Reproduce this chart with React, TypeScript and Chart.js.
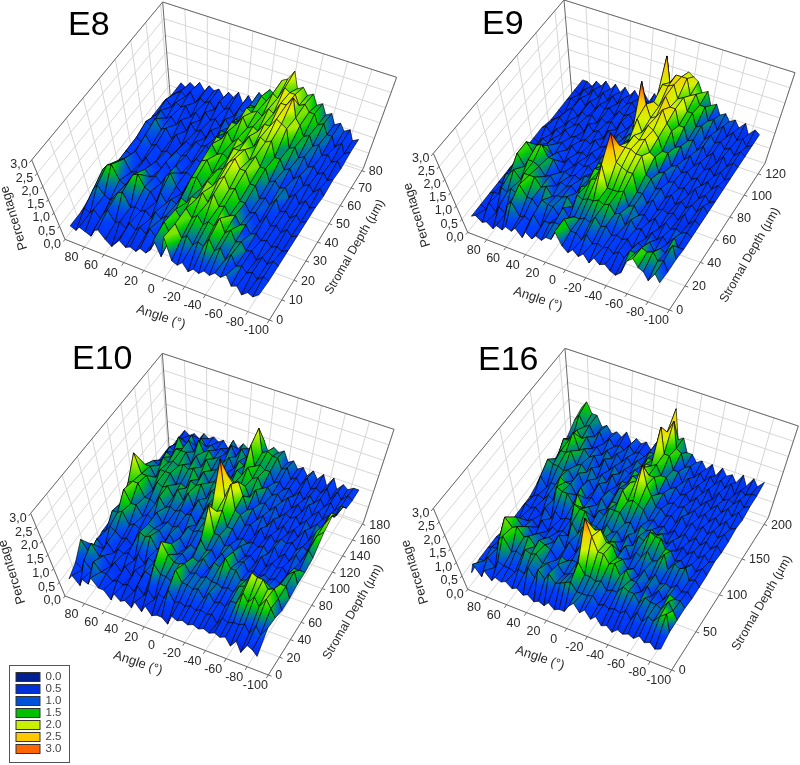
import { useEffect, useRef } from "react";
import { Chart, registerables } from "chart.js";
Chart.register(...registerables);

// values are in tenths of a percent; rows run from depth 0 to the deepest row, columns follow ANGLES
const PERCENT_PER_UNIT = 0.1;
const ANGLES = [87.3,82.45,77.6,72.75,67.9,63.05,58.2,53.35,48.5,43.65,38.8,33.95,29.1,24.25,19.4,14.55,9.7,4.85,0,-4.85,-9.7,-14.55,-19.4,-24.25,-29.1,-33.95,-38.8,-43.65,-48.5,-53.35,-58.2,-63.05,-67.9,-72.75,-77.6,-82.45,-87.3];
const ANGLE_TICKS = [80,60,40,20,0,-20,-40,-60,-80,-100];
const PERCENT_TICKS = [0,0.5,1,1.5,2,2.5,3];
const PERCENT_LABELS = ["0,0","0,5","1,0","1,5","2,0","2,5","3,0"];
const LEGEND_LABELS = ["0.0","0.5","1.0","1.5","2.0","2.5","3.0"];
const LEGEND_COLORS = ["#001f90","#0030d8","#0050d8","#00c000","#c8f000","#ffc800","#ff6600"];

const E8_DEPTHS = [0,7.4,14.8,22.2,29.6,37,44.4,51.8,59.2,66.6,74,81.4];
const E8_TICKS = [0,10,20,30,40,50,60,70,80];
const E8_VALUES = [
[7,6,8,7,6,9,10,7,5,7,9,7,8,7,9,8,10,15,9,18,9,8,10,7,9,8,10,9,11,10,12,8,9,6,8,7,9],
[7,9,8,10,7,10,12,8,9,7,10,8,10,8,11,8,11,16,11,17,12,14,11,13,12,16,12,14,10,13,9,10,8,9,7,9,8],
[8,11,13,10,9,11,13,14,9,10,9,10,8,11,9,11,10,15,12,17,14,16,13,15,14,18,13,15,11,12,9,10,7,9,7,9,8],
[8,13,15,16,11,10,12,15,16,12,11,8,12,9,11,10,13,12,15,15,18,15,19,15,16,13,14,11,12,9,10,8,9,7,8,7,8],
[8,10,12,13,9,10,9,12,10,11,9,12,14,10,8,11,15,16,13,16,15,18,20,16,17,13,13,10,11,8,11,8,9,7,9,7,8],
[7,10,9,11,8,10,7,10,8,11,8,11,9,10,9,12,16,17,13,15,16,19,21,18,18,14,14,10,11,9,12,8,9,7,9,7,8],
[7,10,9,12,9,10,8,9,8,10,9,10,8,10,9,13,17,14,15,14,18,18,19,16,18,15,15,11,12,10,11,8,10,7,9,7,8],
[7,11,10,13,10,11,8,10,7,9,8,10,9,10,8,14,14,17,14,16,15,18,15,19,18,19,14,14,11,12,9,11,8,9,7,9,7],
[8,9,11,9,10,8,10,7,10,8,9,7,10,8,11,11,15,15,18,15,16,15,18,18,21,20,19,13,14,11,12,9,10,8,9,7,8],
[8,10,8,10,9,10,7,9,7,10,8,9,7,10,8,11,11,16,15,16,15,18,17,21,21,24,18,16,13,14,11,12,9,10,8,9,7],
[7,8,9,8,10,7,9,8,9,7,10,8,9,7,10,9,12,12,16,15,18,17,21,20,20,17,18,16,16,13,14,11,11,8,10,7,8],
[7,6,8,7,9,7,9,8,9,7,9,8,10,7,10,8,12,11,14,13,18,19,22,17,18,16,17,14,15,12,13,10,11,9,10,7,8],
];

const E9_DEPTHS = [0,10,20,30,40,50,60,70,80,90,100,110,120,130];
const E9_TICKS = [0,20,40,60,80,100,120];
const E9_VALUES = [
[8,9,7,8,6,8,7,9,8,10,7,10,8,10,9,11,11,15,10,8,10,8,10,7,10,8,9,7,6,8,14,16,13,12,9,13,10],
[8,7,10,7,10,8,12,14,9,10,9,12,8,11,11,12,12,15,11,11,9,12,9,10,9,10,8,10,8,12,12,15,14,15,12,13,9],
[8,9,9,12,11,13,12,16,12,12,9,13,12,12,9,13,10,11,11,12,11,14,11,12,9,10,9,10,7,10,9,12,9,11,10,14,9],
[8,8,12,13,15,12,15,15,15,12,13,10,11,11,12,9,14,13,14,14,15,14,15,12,13,9,12,9,10,7,10,8,10,8,11,8,8],
[8,10,11,16,12,15,15,14,11,12,9,11,10,11,9,12,13,16,17,23,15,15,15,16,11,12,9,10,8,10,7,10,8,9,8,9,8],
[8,8,13,16,13,16,17,13,13,9,10,9,10,9,11,11,15,15,21,30,20,19,18,18,12,12,9,11,8,9,8,9,7,10,7,9,8],
[8,9,8,11,10,12,9,11,8,10,8,10,9,10,8,12,12,16,16,21,21,21,20,20,14,13,10,11,8,10,7,9,7,9,7,10,8],
[8,7,9,8,10,9,10,8,10,8,9,8,10,8,10,9,13,12,16,18,21,20,21,17,16,11,12,9,10,8,9,7,10,7,9,7,8],
[8,9,7,9,8,10,8,9,8,9,8,10,8,9,8,11,10,13,14,22,18,21,20,18,14,14,10,11,9,10,8,9,7,9,7,9,8],
[7,8,9,7,9,8,9,7,10,8,9,7,10,8,10,9,11,11,30,23,19,20,23,19,17,12,13,9,11,8,10,8,9,7,9,7,8],
[7,6,8,9,7,9,8,9,7,9,8,9,7,10,8,10,9,12,16,20,19,23,20,20,15,15,11,12,9,11,8,10,7,10,7,9,8],
[7,8,7,9,7,9,7,9,8,9,7,9,8,9,7,10,9,12,15,22,22,23,19,20,16,16,12,13,9,11,9,10,8,9,7,9,8],
[7,6,8,7,9,7,9,7,9,7,9,8,9,7,10,8,10,10,27,19,22,22,22,17,18,15,15,11,12,9,11,8,10,8,9,7,8],
[7,7,6,8,7,9,7,9,7,9,7,9,7,9,7,10,8,11,13,17,16,20,19,18,15,16,12,13,10,11,9,10,8,10,7,9,8],
];

const E10_DEPTHS = [0,13,26,39,52,65,78,91,104,117,130,143,156,169,182];
const E10_TICKS = [0,20,40,60,80,100,120,140,160,180];
const E10_VALUES = [
[8,10,7,10,9,12,9,9,6,9,7,8,6,9,6,9,6,7,7,5,9,8,9,8,9,8,9,8,9,8,9,6,9,5,9,8,6],
[10,8,12,9,13,10,10,8,9,8,9,7,10,7,10,7,10,9,13,9,10,9,10,9,10,9,10,7,10,9,10,10,11,8,12,9,13],
[14,10,14,10,11,8,10,7,10,7,10,8,11,10,15,12,12,11,16,12,12,11,12,9,12,9,10,9,12,12,17,14,17,14,18,15,12],
[8,11,8,11,8,10,9,10,8,11,8,11,10,14,19,15,13,13,14,11,12,11,12,11,11,10,11,10,13,14,20,19,19,16,17,14,10],
[9,10,12,11,9,10,8,11,14,13,14,10,11,11,14,11,12,9,12,11,13,10,13,12,16,13,13,10,11,10,13,10,12,11,14,14,10],
[9,13,13,14,10,11,10,9,13,12,12,9,12,9,12,9,11,10,14,11,12,9,12,9,14,11,12,9,10,9,10,9,10,9,13,15,11],
[8,12,17,13,13,10,11,10,13,10,11,10,11,9,12,11,12,12,22,13,13,10,11,9,12,9,10,8,11,8,10,9,10,8,11,11,11],
[8,15,16,16,12,12,11,14,11,12,11,12,11,12,9,12,12,16,16,17,12,12,9,10,9,10,9,10,8,11,8,10,8,11,9,14,12],
[8,21,15,15,11,14,13,14,11,14,11,14,10,13,10,13,13,29,17,22,14,13,10,11,8,11,8,10,8,10,9,10,8,10,9,15,17],
[8,14,14,11,14,14,14,11,12,11,14,13,14,10,13,12,16,20,18,19,15,11,12,9,11,8,11,8,10,8,10,8,11,8,12,15,19],
[8,12,11,14,13,14,13,14,13,14,11,14,11,12,11,13,12,14,13,14,11,14,10,11,9,11,8,10,9,10,8,10,8,10,9,15,15],
[8,9,12,11,14,14,14,11,14,11,14,11,12,11,12,11,14,13,16,13,14,11,12,10,11,9,11,8,10,8,11,8,10,8,10,10,14],
[8,10,9,14,11,14,11,15,12,13,11,12,11,13,10,13,12,19,13,14,13,13,10,11,9,10,8,10,8,10,8,10,8,10,8,10,10],
[7,8,10,9,12,9,12,10,11,10,11,10,13,10,13,11,14,21,14,15,14,14,11,12,9,10,8,11,8,9,8,10,7,10,8,10,9],
[7,9,8,9,8,10,9,10,9,10,8,11,9,11,10,11,10,14,11,13,12,13,10,11,9,10,8,10,8,10,7,10,7,9,8,9,9],
];

const E16_DEPTHS = [0,15,30,45,60,75,90,105,120,135,150,165,180,195,210];
const E16_TICKS = [0,50,100,150,200];
const E16_VALUES = [
[8,12,8,11,8,10,9,10,8,9,7,8,6,7,6,8,6,7,7,10,12,9,11,8,10,7,8,6,8,7,8,7,9,7,8,6,7],
[9,9,11,8,11,10,10,9,11,10,13,10,14,11,14,11,12,13,14,11,11,11,12,9,10,9,10,9,11,8,12,9,12,11,14,16,9],
[9,10,10,14,16,11,12,11,14,13,14,11,12,9,13,10,11,12,17,13,13,12,13,10,11,11,14,13,13,10,13,12,12,11,15,12,9],
[9,9,14,18,15,16,13,14,11,14,13,12,9,11,10,11,11,17,29,23,18,18,15,16,12,15,12,12,9,12,9,12,9,12,11,11,9],
[8,10,10,14,11,12,9,11,10,11,10,13,9,12,9,12,11,15,20,21,17,17,13,13,10,11,9,12,9,12,9,10,9,11,9,10,8],
[8,8,10,9,10,8,11,8,10,9,10,9,14,11,14,10,11,10,13,12,13,10,13,9,12,11,14,11,12,15,10,13,12,13,9,10,8],
[8,10,9,10,8,11,8,11,9,10,10,16,15,15,11,11,10,13,11,12,9,12,9,13,12,16,15,15,12,12,9,10,8,10,8,10,8],
[8,9,10,9,11,10,15,14,14,11,15,11,12,9,12,11,14,14,14,11,12,9,12,11,12,11,12,9,11,8,10,8,10,8,10,8,9],
[9,12,9,11,11,14,13,13,10,13,10,11,9,12,9,12,12,17,14,15,14,13,10,11,9,10,8,10,8,10,8,10,8,10,8,10,8],
[9,14,13,13,12,13,10,13,9,12,9,12,9,11,10,13,13,16,17,23,17,14,11,11,9,10,8,11,8,10,8,10,8,10,8,10,8],
[9,11,14,14,15,11,12,10,12,9,11,9,12,9,11,11,14,13,18,16,16,11,12,9,10,9,10,8,10,8,10,8,10,8,10,8,9],
[10,14,14,17,12,13,11,12,9,12,9,11,9,11,10,12,11,15,15,16,13,13,10,11,9,10,8,10,8,10,8,10,8,10,8,10,8],
[11,11,14,12,13,10,11,9,11,9,11,9,11,9,11,10,13,13,24,16,16,12,12,9,11,8,10,8,10,7,10,8,9,8,10,8,9],
[13,15,12,13,10,12,9,11,9,10,9,11,9,10,9,11,11,17,19,23,15,14,10,11,8,10,8,10,8,10,8,10,7,9,8,9,9],
[14,16,13,13,10,11,9,10,9,11,8,10,9,10,8,11,10,14,23,14,15,11,11,9,10,8,10,7,10,8,9,7,10,7,10,8,10],
];

// colour ramp of the surface, in percent
const RAMP_LEVELS = [0,0.5,1,1.15,1.5,2,2.5,3];
const RAMP_RGB = [[0,20,130],[0,40,230],[0,62,255],[0,95,205],[0,205,0],[210,245,0],[255,200,0],[235,50,0]];

type P = [number, number];
const Z = (x: number, y: number, ox = 0, oy = 0): P => [ox + x / 3, oy + y / 3];

const PANELS = [
  { name: "E8", values: E8_VALUES, depths: E8_DEPTHS, ticks: E8_TICKS, off: [0, 0],
    fL: [195,718], fF: [808,960], fR: [1090,505], fB: [512,306], tL: [95,480], tF: [852,764], tR: [1190,232], tB: [488,6],
    title: [68,35], angle: [161,317], depth: [355,247], pct: [14,218] },
  { name: "E9", values: E9_VALUES, depths: E9_DEPTHS, ticks: E9_TICKS, off: [400, 0],
    fL: [203,697], fF: [808,930], fR: [1095,490], fB: [517,297], tL: [100,460], tF: [852,734], tR: [1185,218], tB: [492,0],
    title: [482,34], angle: [538,299], depth: [750,255], pct: [417,215] },
  { name: "E10", values: E10_VALUES, depths: E10_DEPTHS, ticks: E10_TICKS, off: [0, 340],
    fL: [195,768], fF: [805,1005], fR: [1090,548], fB: [509,345], tL: [92,520], tF: [849,809], tR: [1182,268], tB: [487,40],
    title: [72,369], angle: [138,663], depth: [353,612], pct: [12,572] },
  { name: "E16", values: E16_VALUES, depths: E16_DEPTHS, ticks: E16_TICKS, off: [400, 340],
    fL: [203,748], fF: [815,990], fR: [1105,533], fB: [518,330], tL: [100,505], tF: [859,794], tR: [1195,258], tB: [495,25],
    title: [478,370], angle: [540,658], depth: [762,603], pct: [415,572] },
];

function homography(q: number[][]) {
  const [[x0,y0],[x1,y1],[x2,y2],[x3,y3]] = q;
  const dx1=x1-x2, dx2=x3-x2, sx=x0-x1+x2-x3, dy1=y1-y2, dy2=y3-y2, sy=y0-y1+y2-y3;
  const den=dx1*dy2-dx2*dy1;
  const g=(sx*dy2-dx2*sy)/den, h=(dx1*sy-sx*dy1)/den;
  const a=x1-x0+g*x1, b=x3-x0+h*x3, d=y1-y0+g*y1, e=y3-y0+h*y3;
  return (u: number, v: number): P => {
    const w=g*u+h*v+1;
    return [(a*u+b*v+x0)/w, (d*u+e*v+y0)/w];
  };
}

function rampColor(z: number) {
  const c = Math.max(0, Math.min(3, z));
  let i = 0;
  while (i < RAMP_LEVELS.length - 2 && c > RAMP_LEVELS[i + 1]) i++;
  const f = (c - RAMP_LEVELS[i]) / (RAMP_LEVELS[i + 1] - RAMP_LEVELS[i]);
  const m = RAMP_RGB[i].map((v, k) => Math.round(v + (RAMP_RGB[i + 1][k] - v) * f));
  return `rgb(${m[0]},${m[1]},${m[2]})`;
}

function projector(p: any) {
  const px = (n: number[]) => Z(n[0], n[1], p.off[0], p.off[1]);
  const floor = homography([px(p.fL), px(p.fF), px(p.fR), px(p.fB)]);
  const top = homography([px(p.tL), px(p.tF), px(p.tR), px(p.tB)]);
  const dmax = p.depths[p.depths.length - 1];
  return (angle: number, depth: number, pct: number): P => {
    const u = (100 - angle) / 200, v = depth / dmax, w = pct / 3;
    const a = floor(u, v), b = top(u, v);
    return [a[0] + (b[0] - a[0]) * w, a[1] + (b[1] - a[1]) * w];
  };
}

const GRID = "#d6d6d6";
const FRAME = "#6a6a6a";

function buildDatasets(ctx: CanvasRenderingContext2D) {
  const drawOrder: any[] = [];
  const line = (pts: P[], color: string, width: number) =>
    drawOrder.push({ data: pts.map(([x, y]) => ({ x, y })), showLine: true, fill: false, borderColor: color, borderWidth: width, pointRadius: 0, tension: 0 });
  for (const p of PANELS) {
    const at = projector(p);
    const dmax = p.depths[p.depths.length - 1];
    for (const z of PERCENT_TICKS) {
      line([at(100, 0, z), at(100, dmax, z), at(-100, dmax, z)], GRID, 1);
    }
    for (const a of ANGLE_TICKS) {
      line([at(a, 0, 0), at(a, dmax, 0), at(a, dmax, 3)], GRID, 1);
    }
    for (const d of p.ticks) {
      line([at(-100, d, 0), at(100, d, 0), at(100, d, 3)], GRID, 1);
    }
    line([at(100, 0, 3), at(100, dmax, 3), at(-100, dmax, 3), at(-100, dmax, 0)], FRAME, 1);
    line([at(100, dmax, 3), at(100, dmax, 0)], FRAME, 1);
    line([at(100, 0, 3), at(100, 0, 0), at(-100, 0, 0), at(-100, dmax, 0)], FRAME, 1);
    for (const a of ANGLE_TICKS) line([at(a, 0, 0), at(a, -dmax * 0.02, 0)], FRAME, 1);
    for (const d of p.ticks) line([at(-100, d, 0), at(-103, d, 0)], FRAME, 1);
    for (const z of PERCENT_TICKS) line([at(100, 0, z), at(100, -dmax * 0.015, z)], FRAME, 1);

    // surface, far corner first
    const rows = p.values.length, cols = ANGLES.length;
    for (let r = rows - 2; r >= 0; r--) {
      for (let c = 0; c < cols - 1; c++) {
        const corners: [number, number][] = [[r, c], [r, c + 1], [r + 1, c + 1], [r + 1, c]];
        const zs = corners.map(([i, j]) => p.values[i][j] * PERCENT_PER_UNIT);
        const pts = corners.map(([i, j], k) => at(ANGLES[j], p.depths[i], zs[k]));
        let lo = 0, hi = 0;
        zs.forEach((z, k) => { if (z < zs[lo]) lo = k; if (z > zs[hi]) hi = k; });
        let fillStyle: any = rampColor(zs[lo]);
        if (zs[hi] > zs[lo]) {
          const g = ctx.createLinearGradient(pts[lo][0], pts[lo][1], pts[hi][0], pts[hi][1]);
          g.addColorStop(0, rampColor(zs[lo]));
          for (const level of RAMP_LEVELS) {
            if (level > zs[lo] && level < zs[hi]) g.addColorStop((level - zs[lo]) / (zs[hi] - zs[lo]), rampColor(level));
          }
          g.addColorStop(1, rampColor(zs[hi]));
          fillStyle = g;
        }
        drawOrder.push({
          data: [...pts, pts[0]].map(([x, y]) => ({ x, y })), showLine: true, fill: "shape",
          backgroundColor: fillStyle, borderColor: "rgba(0,0,0,0.85)", borderWidth: 0.75, pointRadius: 0, tension: 0,
        });
      }
    }
  }
  // Chart.js paints the last dataset first
  return drawOrder.reverse();
}

const textPlugin = {
  id: "panelText",
  afterDatasetsDraw(chart: any) {
    const { ctx, scales: { x, y } } = chart;
    const sx = (v: number) => x.getPixelForValue(v), sy = (v: number) => y.getPixelForValue(v);
    const text = (s: string, px: number, py: number, font: string, align: CanvasTextAlign, color = "#2a2a2a", rot = 0) => {
      ctx.save();
      ctx.translate(sx(px), sy(py));
      ctx.rotate((rot * Math.PI) / 180);
      ctx.font = font; ctx.textAlign = align; ctx.textBaseline = "middle"; ctx.fillStyle = color;
      ctx.fillText(s, 0, 0);
      ctx.restore();
    };
    const tick = "12.5px 'Liberation Sans'";
    const axis = "13px 'Liberation Sans'";
    for (const p of PANELS) {
      const at = projector(p);
      ctx.save();
      ctx.font = "34px 'Liberation Sans'"; ctx.fillStyle = "#000"; ctx.textBaseline = "alphabetic"; ctx.textAlign = "left";
      ctx.fillText(p.name, sx(p.title[0]), sy(p.title[1]));
      ctx.restore();
      for (const a of ANGLE_TICKS) { const q = at(a, 0, 0); text(String(a), q[0] - 13, q[1] + 11, tick, "center"); }
      for (const d of p.ticks) { const q = at(-100, d, 0); text(String(d), q[0] + 7, q[1] + 1, tick, "left"); }
      PERCENT_TICKS.forEach((z, i) => { const q = at(100, 0, z); text(PERCENT_LABELS[i], q[0] - 4, q[1] + 5, tick, "right"); });
      text("Angle (°)", p.angle[0], p.angle[1], axis, "center", "#2a2a2a", 19);
      text("Stromal Depth (µm)", p.depth[0], p.depth[1], "12.3px 'Liberation Sans'", "center", "#2a2a2a", -60);
      text("Percentage", p.pct[0], p.pct[1], axis, "center", "#2a2a2a", -107);
    }
    // legend
    ctx.save();
    ctx.fillStyle = "#fff"; ctx.strokeStyle = "#555"; ctx.lineWidth = 1;
    ctx.fillRect(sx(9.5), sy(665.5), 60, 97); ctx.strokeRect(sx(9.5), sy(665.5), 60, 97);
    LEGEND_LABELS.forEach((label, i) => {
      ctx.fillStyle = LEGEND_COLORS[i]; ctx.strokeStyle = "#333";
      ctx.fillRect(sx(16), sy(672.5 + i * 12), 24, 9); ctx.strokeRect(sx(16), sy(672.5 + i * 12), 24, 9);
      text(label, 45.5, 677 + i * 12, "11.5px 'Liberation Sans'", "left", "#444");
    });
    ctx.restore();
  },
};

export default function App() {
  const ref = useRef<HTMLCanvasElement>(null);
  useEffect(() => {
    const canvas = ref.current!;
    const ctx = canvas.getContext("2d")!;
    const chart = new Chart(canvas, {
      type: "scatter",
      data: { datasets: buildDatasets(ctx) },
      options: {
        responsive: false, animation: false, events: [], parsing: false, normalized: true,
        layout: { padding: 0 },
        plugins: { legend: { display: false }, tooltip: { enabled: false } },
        scales: {
          x: { type: "linear", min: 0, max: 800, display: false },
          y: { type: "linear", min: 0, max: 765, reverse: true, display: false },
        },
      } as any,
      plugins: [textPlugin],
    });
    return () => chart.destroy();
  }, []);
  return (
    <div style={{ position: "absolute", left: 0, top: 0, width: 800, height: 765, background: "#fff" }}>
      <canvas ref={ref} width={800} height={765} style={{ display: "block" }} />
    </div>
  );
}
